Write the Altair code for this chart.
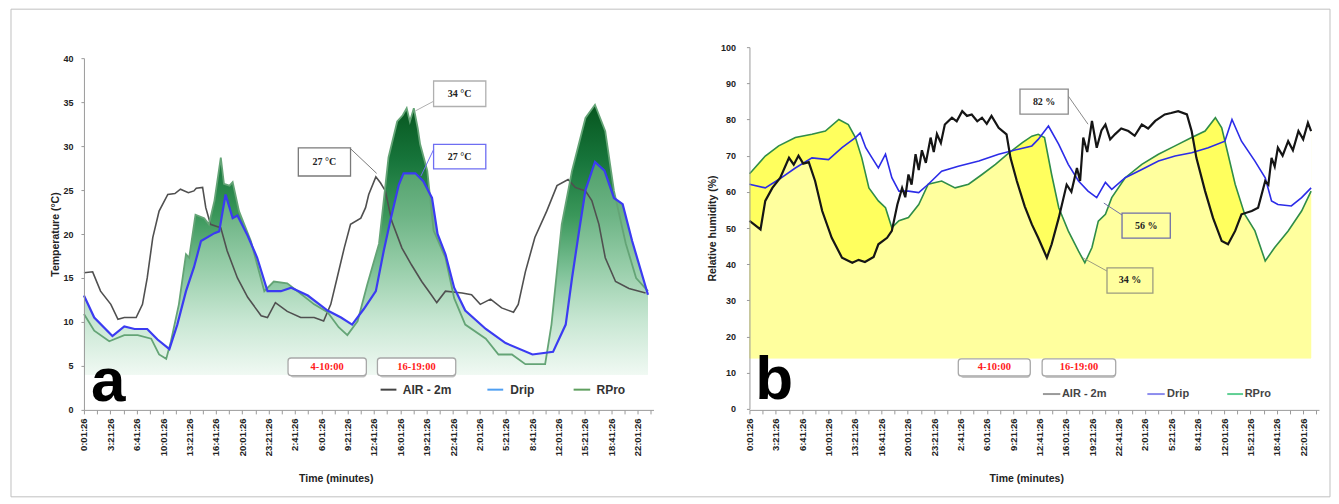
import json
import altair as alt
import pandas as pd

# ---------------- data ----------------
X_LABELS = ['0:01:26', '3:21:26', '6:41:26', '10:01:26', '13:21:26', '16:41:26', '20:01:26',
            '23:21:26', '2:41:26', '6:01:26', '9:21:26', '12:41:26', '16:01:26', '19:21:26',
            '22:41:26', '2:01:26', '5:21:26', '8:41:26', '12:01:26', '15:21:26', '18:41:26',
            '22:01:26']
SERIES = ['AIR - 2m', 'Drip', 'RPro']

# panel a : temperature (°C), time in hours from first record
a_air_t = [0, 1.1, 2.1, 3.4, 4.3, 5.1, 6.6, 7.4, 8.0, 8.7, 9.5, 10.6, 11.5, 12.2, 13.2, 13.9, 14.2, 15.0,
           15.4, 16.0, 17.3, 18.1, 19.4, 20.7, 22.4, 23.2, 24.2, 25.7, 27.4, 29.1, 30.3, 31.2, 32.0,
           32.9, 33.7, 35.0, 35.6, 36.0, 36.9, 37.5, 38.1, 38.9, 40.2, 41.4, 42.7, 43.9, 44.6, 45.7,
           47.8, 49.0, 50.1, 51.4, 52.8, 54.3, 54.9, 55.8, 57.0, 58.5, 59.8, 61.2, 62.1, 63.4, 64.2,
           65.1, 65.9, 67.2, 68.9, 71.0]
a_air_v = [15.6, 15.7, 13.5, 12.0, 10.3, 10.5, 10.5, 12.0, 15.0, 19.6, 22.6, 24.5, 24.6, 25.1, 24.7,
           24.9, 25.2, 25.3, 23.0, 21.1, 20.7, 18.1, 15.0, 12.8, 10.7, 10.5, 12.2, 11.2, 10.5, 10.5,
           10.1, 12.0, 15.0, 18.4, 21.1, 21.8, 23.0, 24.5, 26.5, 25.8, 24.9, 21.5, 18.4, 16.5, 14.6,
           13.1, 12.2, 13.5, 13.3, 13.1, 12.0, 12.6, 11.6, 11.1, 12.0, 15.7, 19.6, 22.6, 25.5, 26.2,
           25.3, 24.9, 23.8, 21.1, 17.3, 14.6, 13.8, 13.3]

a_drip_t = [0, 1.3, 3.6, 5.1, 6.4, 8.0, 9.3, 10.8, 11.8, 12.9, 13.9, 14.8, 16.5, 17.1, 17.9, 18.8,
            19.4, 20.7, 21.9, 23.2, 24.9, 26.2, 28.3, 30.8, 32.5, 33.9, 35.4, 36.9, 37.9, 38.8, 39.8,
            40.4, 41.9, 42.9, 44.0, 44.7, 45.7, 46.8, 48.2, 50.8, 53.3, 56.7, 59.3, 60.9, 61.7, 62.6,
            63.4, 64.6, 65.8, 67.0, 68.1, 69.3, 71.3]
a_drip_v = [13.0, 10.5, 8.4, 9.5, 9.2, 9.2, 8.0, 6.9, 9.7, 13.5, 16.2, 19.2, 20.1, 20.3, 24.5, 21.8,
            22.1, 19.8, 17.3, 13.5, 13.5, 13.9, 13.0, 11.3, 10.5, 9.7, 11.5, 13.5, 18.1, 21.8, 25.6,
            26.9, 26.9, 26.0, 24.1, 20.0, 17.7, 13.9, 11.3, 9.2, 7.6, 6.3, 6.6, 9.7, 15.0, 20.4,
            25.0, 28.2, 27.2, 24.1, 23.4, 19.2, 13.1]

a_rpro_t = [0, 1.3, 3.2, 5.1, 6.8, 8.5, 9.5, 10.4, 11.0, 12.0, 12.9, 13.3, 14.1, 15.2, 15.8, 16.5,
            17.3, 17.7, 18.4, 18.8, 19.6, 21.1, 22.8, 24.0, 25.7, 27.0, 29.1, 30.8, 32.2, 33.3, 34.6,
            35.8, 37.3, 38.5, 39.6, 40.3, 40.8, 41.2, 41.7, 42.2, 42.5, 43.4, 44.2, 45.7, 46.8, 48.2,
            50.8, 52.4, 54.1, 55.8, 58.3, 59.1, 60.4, 61.7, 63.4, 64.6, 65.9, 67.0, 68.5, 69.8, 71.3]
a_rpro_v = [10.9, 9.0, 7.8, 8.5, 8.5, 8.1, 6.3, 5.8, 7.8, 12.0, 17.7, 17.3, 22.2, 21.8, 21.1, 23.8,
            28.7, 25.7, 25.5, 25.9, 22.6, 19.2, 13.5, 14.6, 14.4, 13.5, 12.0, 11.1, 9.4, 8.5, 10.1,
            14.2, 18.9, 28.7, 32.8, 33.5, 34.3, 32.8, 34.3, 32.0, 30.2, 27.2, 20.4, 17.3, 12.7, 9.7,
            8.1, 6.3, 6.3, 5.2, 5.2, 9.7, 21.1, 27.2, 33.2, 34.7, 31.7, 24.9, 18.9, 15.0, 13.5]

# panel b : relative humidity (%)
b_air_t = [0, 0.3, 1.4, 2.0, 2.9, 3.9, 5.0, 5.6, 6.2, 6.8, 7.5, 8.3, 9.2, 10.4, 11.7, 13.0, 13.8,
           14.6, 15.7, 16.3, 17.4, 18.0, 18.7, 19.3, 19.7, 20.1, 20.5, 21.0, 21.4, 21.8, 22.3, 22.9,
           23.3, 23.7, 24.2, 24.7, 25.6, 26.2, 26.9, 27.5, 28.1, 28.8, 29.4, 30.0, 30.6, 31.5, 32.5,
           33.0, 33.8, 34.8, 35.7, 36.5, 37.6, 38.2, 39.1, 40.1, 40.7, 41.4, 41.8, 42.2, 42.7, 43.3,
           43.9, 44.5, 45.0, 45.6, 46.2, 47.0, 47.9, 48.7, 49.6, 50.4, 51.3, 52.5, 53.3, 54.2, 55.3,
           55.9, 56.5, 57.6, 58.6, 59.7, 60.5, 61.4, 62.2, 63.5, 64.3, 65.2, 65.6, 66.0, 66.4, 66.8,
           67.4, 68.1, 68.7, 69.4, 70.0, 70.6, 71.0]
b_air_v = [52.0, 51.5, 49.6, 57.5, 61.1, 63.9, 69.4, 67.5, 70.0, 67.8, 68.2, 63.0, 54.7, 47.3, 41.8,
           40.4, 41.2, 40.6, 42.0, 45.5, 47.3, 49.2, 56.5, 61.1, 58.5, 64.8, 62.0, 70.4, 66.0, 71.5,
           68.0, 75.0, 71.0, 76.0, 73.5, 78.6, 80.5, 79.5, 82.3, 81.0, 81.4, 79.5, 80.5, 78.8, 81.0,
           77.7, 75.9, 69.4, 63.0, 56.0, 51.0, 47.3, 41.8, 45.5, 52.8, 62.0, 60.0, 66.6, 63.0, 75.0,
           71.0, 79.6, 72.2, 77.0, 78.6, 74.5, 75.9, 77.5, 76.8, 75.5, 78.6, 77.5, 79.6, 81.4, 81.8,
           82.3, 81.4, 76.8, 69.4, 60.2, 52.8, 46.4, 45.5, 49.2, 53.8, 54.7, 55.6, 63.0, 62.0, 69.4,
           67.0, 72.2, 70.0, 74.0, 71.5, 76.8, 74.5, 79.1, 76.8]

b_drip_t = [0, 2.0, 3.7, 5.8, 7.9, 10.0, 11.7, 13.4, 14.0, 14.7, 15.5, 16.3, 17.2, 18.0, 18.9, 20.1,
            21.4, 22.6, 24.3, 26.4, 29.0, 31.5, 34.0, 35.7, 36.5, 37.8, 39.1, 40.3, 41.6, 42.8, 43.9,
            45.0, 45.8, 47.5, 49.6, 51.7, 53.8, 55.9, 58.0, 60.1, 61.0, 62.2, 63.9, 65.2, 66.0, 66.8,
            68.5, 69.8, 71.0]
b_drip_v = [62.1, 61.1, 63.4, 66.6, 69.4, 68.9, 72.2, 75.0, 76.3, 72.2, 69.4, 66.6, 70.4, 63.9, 60.2,
            60.2, 59.8, 62.1, 65.7, 67.1, 68.5, 70.4, 71.8, 72.7, 74.5, 78.2, 73.1, 67.6, 63.0, 60.2,
            58.4, 62.6, 60.7, 63.9, 66.2, 68.5, 69.9, 70.8, 72.2, 74.0, 80.0, 74.0, 68.5, 63.9, 57.5,
            56.5, 56.1, 58.4, 61.1]

b_rpro_t = [0, 0.3, 2.0, 3.7, 5.8, 7.9, 9.6, 11.3, 12.5, 13.4, 14.2, 15.1, 16.3, 17.2, 18.0, 18.9,
            20.1, 21.4, 22.6, 24.3, 26.0, 27.7, 29.4, 31.1, 32.8, 34.5, 35.7, 36.5, 37.3, 38.2, 39.1,
            40.3, 41.6, 42.4, 43.3, 44.1, 45.0, 45.8, 47.5, 49.6, 51.7, 53.8, 55.9, 57.6, 58.9, 59.7,
            60.5, 61.4, 62.6, 63.9, 65.2, 66.4, 68.1, 69.8, 71.0]
b_rpro_v = [65.0, 65.7, 69.9, 72.7, 75.0, 75.9, 76.8, 80.0, 78.6, 75.0, 69.4, 61.1, 57.5, 55.6, 50.1,
            52.0, 52.9, 56.5, 62.1, 63.0, 61.1, 62.1, 64.8, 67.6, 70.8, 73.6, 75.4, 75.9, 75.0, 64.8,
            55.6, 49.2, 43.6, 40.4, 44.6, 51.9, 53.8, 58.4, 63.9, 67.6, 70.4, 72.7, 75.0, 76.8, 80.5,
            77.7, 70.4, 62.1, 53.8, 49.2, 40.9, 44.6, 49.2, 54.7, 60.2]

# annotation texts
A_NOTES = ['27 °C', '34 °C', '27 °C']
B_NOTES = ['82 %', '56 %', '34 %']
PERIODS = ['4-10:00', '16-19:00']

# ---------------- layout ----------------
W, H = 570, 363
XS = alt.Scale(domain=[0, 72], nice=False, zero=False)
YA = alt.Scale(domain=[0, 40], range=[363, 11], nice=False, zero=False)
YB = alt.Scale(domain=[0, 100], range=[362, 0], nice=False, zero=False)
FONT = 'Liberation Sans'
SERIF = 'Liberation Serif'

XT = [i * 5 / 3 for i in range(44)]
LABEL_EXPR = ("round(datum.value*0.6) % 2 == 0 ? " + json.dumps(X_LABELS) +
              "[round(datum.value*0.3)] : ''")


def x_axis(title_x):
    return alt.Axis(values=XT, labelExpr=LABEL_EXPR, labelAngle=270, labelAlign='right',
                    labelBaseline='middle', labelFontSize=9.5, labelFont=FONT,
                    labelFontWeight='bold', labelColor='#222', labelPadding=4,
                    labelOverlap=False, labelFlush=False,
                    tickSize=4, tickColor='#9a9a9a', domainColor='#9a9a9a', grid=False,
                    title='Time (minutes)', titleFont=FONT, titleFontSize=10.5,
                    titleFontWeight='bold', titleColor='#222', titleX=title_x, titleY=64,
                    titleAlign='center', titleBaseline='top', zindex=1)


def y_axis(title, values, pad, tpad):
    return alt.Axis(values=values, labelFontSize=9, labelFont=FONT, labelFontWeight='bold',
                    labelColor='#222', labelPadding=pad, tickSize=3, tickColor='#9a9a9a',
                    domainColor='#9a9a9a', grid=False, title=title, titleFont=FONT,
                    titleFontSize=10.5, titleFontWeight='bold', titleColor='#222',
                    titlePadding=tpad, zindex=1)


AX_A = (x_axis(252), y_axis('Temperature (°C)', list(range(0, 41, 5)), 8, 2))
AX_B = (x_axis(277), y_axis('Relative humidity (%)', list(range(0, 101, 10)), 11, 3))


def xy(ys, ax, xf='t', yf='v'):
    return dict(x=alt.X(f'{xf}:Q', scale=XS, axis=ax[0]),
                y=alt.Y(f'{yf}:Q', scale=ys, axis=ax[1]))


def series_df(t, v):
    return pd.DataFrame({'t': t, 'v': v})


def grad(stops):
    return alt.Gradient(gradient='linear', x1=0, x2=0, y1=0, y2=1,
                        stops=[alt.GradientStop(color=c, offset=o) for o, c in stops])


def boxes(ys, ax, df):
    rect = alt.Chart(df).mark_rect(fillOpacity=0, strokeWidth=1.3).encode(
        **xy(ys, ax, 't1', 'v1'), x2='t2:Q', y2='v2:Q',
        stroke=alt.Color('sc:N', scale=None))
    lead = alt.Chart(df).mark_rule(strokeWidth=1).encode(
        **xy(ys, ax, 'lx1', 'ly1'), x2='lx2:Q', y2='ly2:Q',
        color=alt.Color('sc:N', scale=None))
    txt = alt.Chart(df).mark_text(font=SERIF, fontWeight='bold', fontSize=10, color='#222').encode(
        **xy(ys, ax, 'tx', 'ty'), text='label:N')
    return [lead, rect, txt]


def periods(ys, ax, df):
    shadow = alt.Chart(df).mark_rect(fill='#c4c4c4', cornerRadius=3, xOffset=2, yOffset=2).encode(
        **xy(ys, ax, 't1', 'v1'), x2='t2:Q', y2='v2:Q')
    rect = alt.Chart(df).mark_rect(fill='white', stroke='#a8a8a8', strokeWidth=1.3,
                                   cornerRadius=3).encode(
        **xy(ys, ax, 't1', 'v1'), x2='t2:Q', y2='v2:Q')
    txt = alt.Chart(df).mark_text(font=SERIF, fontWeight='bold', fontSize=10.5,
                                  color='#ff1a1a').encode(
        **xy(ys, ax, 'tx', 'ty'), text='label:N')
    return [shadow, rect, txt]


def legend(ys, ax, df, size, tcolor):
    rule = alt.Chart(df).mark_rule(strokeWidth=2).encode(
        **xy(ys, ax, 'x1', 'y'), x2='x2:Q', color=alt.Color('c:N', scale=None))
    txt = alt.Chart(df).mark_text(font=FONT, fontWeight='bold', fontSize=size, align='left',
                                  baseline='middle', color=tcolor).encode(
        **xy(ys, ax, 'tx', 'y'), text='label:N')
    return [rule, txt]


def letter(ys, ax, t, v, s):
    return alt.Chart(pd.DataFrame({'t': [t], 'v': [v], 's': [s]})).mark_text(
        font=FONT, fontWeight='bold', fontSize=62, align='left', baseline='alphabetic',
        color='black').encode(**xy(ys, ax), text='s:N')


# ---------------- panel a ----------------
frame = alt.Chart(pd.DataFrame({'k': [0]})).mark_rect(
    fillOpacity=0, stroke='#c0c0c0', strokeWidth=1).encode(
    x=alt.value(-73), x2=alt.value(1247), y=alt.value(-38), y2=alt.value(450))

a_rpro_area = alt.Chart(series_df(a_rpro_t, a_rpro_v)).mark_area(
    color=grad([(0, '#07561f'), (0.2, '#16743a'), (0.41, '#3a975a'), (0.61, '#7bc095'),
                (0.8, '#bfe2cc'), (1, '#eef8f1')])).encode(**xy(YA, AX_A), y2=alt.datum(4))
a_drip_area = alt.Chart(series_df(a_drip_t, a_drip_v)).mark_area(
    color=grad([(0, '#4f9f69'), (0.25, '#6db485'), (0.5, '#98ceaa'), (0.75, '#c8e7d3'),
                (1, '#f0f9f3')])).encode(**xy(YA, AX_A), y2=alt.datum(4))
a_air_line = alt.Chart(series_df(a_air_t, a_air_v)).mark_line(
    color='#505050', strokeWidth=1.6).encode(**xy(YA, AX_A))
a_rpro_line = alt.Chart(series_df(a_rpro_t, a_rpro_v)).mark_line(
    color='#64a476', strokeWidth=1.8).encode(**xy(YA, AX_A))
a_drip_line = alt.Chart(series_df(a_drip_t, a_drip_v)).mark_line(
    color='#3b3bf2', strokeWidth=2.2).encode(**xy(YA, AX_A))

a_boxes = pd.DataFrame({
    't1': [27.1, 44.2, 44.2], 't2': [33.7, 50.8, 50.8],
    'v1': [26.6, 34.5, 27.4], 'v2': [29.8, 37.4, 30.2],
    'tx': [30.4, 47.5, 47.5], 'ty': [28.2, 35.95, 28.8],
    'lx1': [33.7, 44.2, 44.2], 'lx2': [37.0, 41.9, 42.6],
    'ly1': [29.7, 35.1, 29.6], 'ly2': [26.9, 34.0, 26.6],
    'sc': ['#7a7a7a', '#b0b0b0', '#6e6ef2'], 'label': A_NOTES})
a_periods = pd.DataFrame({'t1': [25.8, 37.1], 't2': [35.7, 47.0], 'v1': [3.9, 3.9],
                          'v2': [5.9, 5.9], 'tx': [30.75, 42.05], 'ty': [4.9, 4.9],
                          'label': PERIODS})
a_legend = pd.DataFrame({'x1': [37.5, 51.0, 61.9], 'x2': [39.5, 53.0, 64.0],
                         'tx': [40.3, 53.9, 64.8], 'y': [2.3, 2.3, 2.3],
                         'c': ['#444444', '#4f9ff2', '#5f9f5f'], 'label': SERIES})

panel_a = alt.layer(
    frame, a_rpro_area, a_drip_area, a_air_line, a_rpro_line, a_drip_line,
    *boxes(YA, AX_A, a_boxes), *periods(YA, AX_A, a_periods),
    *legend(YA, AX_A, a_legend, 12, '#333333'),
    letter(YA, AX_A, 0.9, 1.0, 'a')
).properties(width=W, height=H)

# ---------------- panel b ----------------
b_rpro_sat = alt.Chart(series_df(b_rpro_t, b_rpro_v)).mark_area(color='#ffff5e').encode(
    **xy(YB, AX_B), y2=alt.datum(14))
b_air_pale = alt.Chart(series_df(b_air_t, b_air_v)).mark_area(color='#ffff9e').encode(
    **xy(YB, AX_B), y2=alt.datum(14))
b_mask = alt.Chart(series_df(b_rpro_t, b_rpro_v)).mark_area(color='white').encode(
    **xy(YB, AX_B), y2=alt.datum(100))
b_rpro_line = alt.Chart(series_df(b_rpro_t, b_rpro_v)).mark_line(
    color='#2f8d48', strokeWidth=1.6).encode(**xy(YB, AX_B))
b_drip_line = alt.Chart(series_df(b_drip_t, b_drip_v)).mark_line(
    color='#2c2ce8', strokeWidth=1.6).encode(**xy(YB, AX_B))
b_air_line = alt.Chart(series_df(b_air_t, b_air_v)).mark_line(
    color='#151515', strokeWidth=2.2).encode(**xy(YB, AX_B))

b_boxes = pd.DataFrame({
    't1': [34.2, 47.1, 45.2], 't2': [40.3, 53.2, 51.0],
    'v1': [81.5, 47.2, 32.0], 'v2': [88.4, 54.1, 39.0],
    'tx': [37.25, 50.15, 48.1], 'ty': [84.95, 50.65, 35.5],
    'lx1': [40.3, 47.1, 45.2], 'lx2': [42.8, 44.8, 42.2],
    'ly1': [86.5, 53.6, 38.1], 'ly2': [78.7, 56.9, 41.7],
    'sc': ['#8a8a8a', '#6f6fa8', '#9c9c80'], 'label': B_NOTES})
b_periods = pd.DataFrame({'t1': [26.4, 37.0], 't2': [35.5, 46.3], 'v1': [9.1, 9.1],
                          'v2': [13.8, 13.8], 'tx': [30.95, 41.65], 'ty': [11.45, 11.45],
                          'label': PERIODS})
b_legend = pd.DataFrame({'x1': [37.1, 50.3, 60.4], 'x2': [39.3, 52.5, 62.4],
                         'tx': [39.5, 52.8, 62.6], 'y': [4.1, 4.1, 4.1],
                         'c': ['#9a9a9a', '#8c8cee', '#5fcf93'], 'label': SERIES})

panel_b = alt.layer(
    b_rpro_sat, b_air_pale, b_mask, b_rpro_line, b_drip_line, b_air_line,
    *boxes(YB, AX_B, b_boxes), *periods(YB, AX_B, b_periods),
    *legend(YB, AX_B, b_legend, 11, '#444444'),
    letter(YB, AX_B, 0.75, 2.8, 'b')
).properties(width=W, height=H)

chart = alt.hconcat(panel_a, panel_b, spacing=96, bounds='flush').properties(
    padding={'left': 2, 'top': 0, 'right': 0, 'bottom': 0},
    background='white'
).configure_view(stroke=None)

chart.save('out.html', embed_options={'renderer': 'svg', 'actions': False})
